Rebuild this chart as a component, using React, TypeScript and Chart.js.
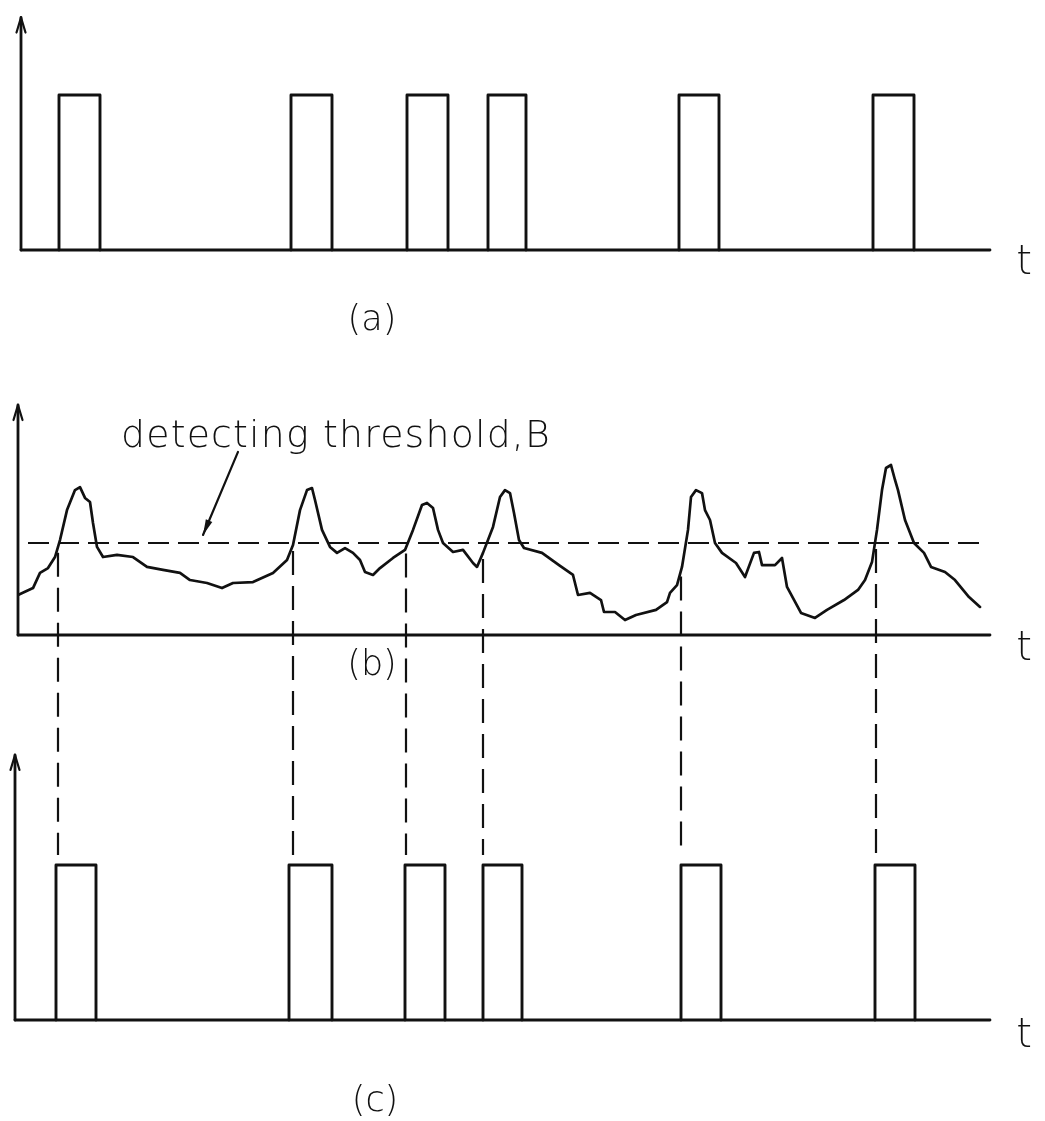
import React, { useEffect, useRef } from "react";
import { Chart, registerables } from "chart.js";

Chart.register(...registerables);

const W = 1045;
const H = 1121;
const INK = "#111111";
const FONT = "'DejaVu Sans', 'Liberation Sans', sans-serif";

// ---- Panel (a): input pulse train (time units) ----
const pulseStartA = [4.1, 27.3, 38.9, 47.0, 66.1, 85.5];
const pulseEndA = [8.2, 31.4, 43.0, 50.8, 70.1, 89.6];

// ---- Panel (b): received signal and detecting threshold B ----
const signalT = [
  0, 1.5, 2.2, 3.0, 3.7, 4.2, 4.9, 5.7, 6.2, 6.7,
  7.2, 7.5, 7.9, 8.5, 9.9, 11.5, 12.9, 14.5, 16.2, 17.2,
  18.9, 20.4, 21.5, 23.5, 25.5, 26.9, 27.5, 28.2, 28.9, 29.4,
  29.7, 30.4, 31.2, 31.9, 32.7, 33.5, 34.2, 34.7, 35.5, 36.2,
  37.5, 38.7, 39.5, 40.4, 40.9, 41.5, 42.0, 42.5, 43.5, 44.5,
  45.5, 45.9, 46.5, 47.5, 48.2, 48.7, 49.2, 49.6, 50.1, 50.6,
  52.4, 54.1, 55.5, 56.0, 57.2, 58.3, 58.6, 59.7, 60.7, 61.8,
  63.8, 64.9, 65.2, 65.9, 66.4, 67.0, 67.3, 67.8, 68.4, 68.7,
  69.2, 69.7, 70.4, 71.8, 72.7, 73.6, 74.1, 74.4, 75.7, 76.4,
  76.9, 78.3, 79.7, 80.9, 82.6, 84.0, 84.7, 85.4, 85.9, 86.4,
  86.8, 87.3, 87.7, 88.0, 88.7, 89.6, 90.6, 91.3, 92.7, 93.7,
  95.1, 96.2,
];
const signalV = [
  1.74, 2.04, 2.7, 2.91, 3.39, 4.13, 5.43, 6.3, 6.43, 5.96,
  5.78, 4.87, 3.83, 3.39, 3.48, 3.39, 2.96, 2.83, 2.7, 2.39,
  2.26, 2.04, 2.26, 2.3, 2.7, 3.26, 3.91, 5.43, 6.3, 6.39,
  5.87, 4.57, 3.83, 3.57, 3.78, 3.57, 3.26, 2.74, 2.61, 2.91,
  3.35, 3.7, 4.57, 5.65, 5.74, 5.52, 4.57, 4.0, 3.61, 3.7,
  3.13, 2.96, 3.57, 4.7, 6.0, 6.3, 6.17, 5.3, 4.13, 3.78,
  3.57, 3.04, 2.61, 1.74, 1.83, 1.52, 1.0, 1.0, 0.65, 0.87,
  1.09, 1.43, 1.83, 2.17, 2.96, 4.57, 6.0, 6.3, 6.17, 5.43,
  5.0, 4.0, 3.57, 3.13, 2.52, 3.57, 3.61, 3.04, 3.04, 3.35,
  2.09, 0.96, 0.74, 1.09, 1.52, 1.96, 2.39, 3.17, 4.57, 6.3,
  7.26, 7.39, 6.74, 6.3, 5.0, 4.0, 3.57, 2.96, 2.74, 2.39,
  1.65, 1.22,
];
const thresholdB = 4;
const thresholdSpan = [1.0, 96.4];

// upward threshold crossings (dashed projections to panel c)
const crossingT = [4.0, 27.5, 38.8, 46.5, 66.3, 85.8];

// ---- Panel (c): detected output pulses ----
const pulseStartC = [3.8, 27.1, 38.7, 46.5, 66.3, 85.7];
const pulseEndC = [7.8, 31.4, 42.7, 50.4, 70.3, 89.7];

// ---- Axes and labels ----
const panelAxes = [
  { axis: "ya", axisT: 0.3, endT: 97.2, topV: 1.5 },
  { axis: "yb", axisT: 0.0, endT: 97.2, topV: 10 },
  { axis: "yc", axisT: -0.3, endT: 97.2, topV: 1.71 },
];
const labels = [
  { text: "(a)", axis: "ya", t: 35.4, v: -0.46, size: 35, align: "center" },
  { text: "(b)", axis: "yb", t: 35.4, v: -1.35, size: 35, align: "center" },
  { text: "(c)", axis: "yc", t: 35.7, v: -0.53, size: 35, align: "center" },
  { text: "t", axis: "ya", t: 100.6, v: -0.09, size: 40, align: "center" },
  { text: "t", axis: "yb", t: 100.6, v: -0.65, size: 40, align: "center" },
  { text: "t", axis: "yc", t: 100.6, v: -0.11, size: 40, align: "center" },
];
const thresholdText = { text: "detecting threshold,B", axis: "yb", t: 10.3, v: 8.17, size: 38, spacing: "1.2px", width: 430 };
const thresholdArrow = { axis: "yb", from: [22.0, 7.96], to: [18.5, 4.35] };

// vertical placement of each panel's value range on the shared canvas
function placeAxis(zeroPx: number, unitPx: number) {
  return { min: -(H - zeroPx) / unitPx, max: zeroPx / unitPx };
}
const layoutA = placeAxis(250, 155);
const layoutB = placeAxis(635, 23);
const layoutC = placeAxis(1020, 155);

function pulseTrain(starts: number[], ends: number[]) {
  const pts: { x: number; y: number | null }[] = [];
  starts.forEach((s, i) => {
    pts.push({ x: s, y: 0 }, { x: s, y: 1 }, { x: ends[i], y: 1 }, { x: ends[i], y: 0 });
    pts.push({ x: ends[i] + 0.01, y: null });
  });
  return pts;
}

function interp(ts: number[], vs: number[], t: number) {
  for (let i = 1; i < ts.length; i++) {
    if (t <= ts[i]) {
      const f = (t - ts[i - 1]) / (ts[i] - ts[i - 1]);
      return vs[i - 1] + f * (vs[i] - vs[i - 1]);
    }
  }
  return vs[vs.length - 1];
}

const decorPlugin = {
  id: "decor",
  afterDatasetsDraw(chart: any) {
    const ctx = chart.ctx as CanvasRenderingContext2D;
    const xs = chart.scales.x;
    ctx.save();
    ctx.strokeStyle = INK;
    ctx.fillStyle = INK;
    ctx.lineCap = "round";
    ctx.lineJoin = "round";

    // axes with arrow heads
    ctx.lineWidth = 2.8;
    panelAxes.forEach((p) => {
      const ys = chart.scales[p.axis];
      const x0 = xs.getPixelForValue(p.axisT);
      const x1 = xs.getPixelForValue(p.endT);
      const y0 = ys.getPixelForValue(0);
      const yTop = ys.getPixelForValue(p.topV);
      ctx.beginPath();
      ctx.moveTo(x0, y0);
      ctx.lineTo(x1, y0);
      ctx.stroke();
      ctx.beginPath();
      ctx.moveTo(x0, y0);
      ctx.lineTo(x0, yTop);
      ctx.stroke();
      ctx.lineWidth = 2.2;
      ctx.beginPath();
      ctx.moveTo(x0 - 4.5, yTop + 15);
      ctx.lineTo(x0, yTop);
      ctx.lineTo(x0 + 4.5, yTop + 15);
      ctx.stroke();
      ctx.lineWidth = 2.8;
    });

    // dashed projections from threshold crossings down to panel (c)
    const yb = chart.scales.yb;
    const yc = chart.scales.yc;
    ctx.lineWidth = 2.2;
    ctx.lineCap = "butt";
    ctx.setLineDash([24, 11]);
    crossingT.forEach((t) => {
      const x = xs.getPixelForValue(t);
      const yStart = yb.getPixelForValue(Math.min(interp(signalT, signalV, t), thresholdB)) + 6;
      const yEnd = yc.getPixelForValue(1) - 10;
      ctx.beginPath();
      ctx.moveTo(x, yStart);
      ctx.lineTo(x, yEnd);
      ctx.stroke();
    });
    ctx.setLineDash([]);

    // annotation arrow for threshold
    const ya = chart.scales[thresholdArrow.axis];
    const ax0 = xs.getPixelForValue(thresholdArrow.from[0]);
    const ay0 = ya.getPixelForValue(thresholdArrow.from[1]);
    const ax1 = xs.getPixelForValue(thresholdArrow.to[0]);
    const ay1 = ya.getPixelForValue(thresholdArrow.to[1]);
    ctx.lineWidth = 2.2;
    ctx.lineCap = "round";
    ctx.beginPath();
    ctx.moveTo(ax0, ay0);
    ctx.lineTo(ax1, ay1);
    ctx.stroke();
    const ang = Math.atan2(ay1 - ay0, ax1 - ax0);
    const hl = 16;
    ctx.beginPath();
    ctx.moveTo(ax1 - hl * Math.cos(ang - 0.22), ay1 - hl * Math.sin(ang - 0.22));
    ctx.lineTo(ax1, ay1);
    ctx.lineTo(ax1 - hl * Math.cos(ang + 0.22), ay1 - hl * Math.sin(ang + 0.22));
    ctx.closePath();
    ctx.fill();

    // texts
    ctx.textBaseline = "middle";
    labels.forEach((l) => {
      const ys = chart.scales[l.axis];
      ctx.font = `200 ${l.size}px ${FONT}`;
      ctx.textAlign = l.align as CanvasTextAlign;
      ctx.fillText(l.text, xs.getPixelForValue(l.t), ys.getPixelForValue(l.v));
    });
    const tt = thresholdText;
    ctx.font = `200 ${tt.size}px ${FONT}`;
    (ctx as any).letterSpacing = tt.spacing;
    ctx.textAlign = "left";
    ctx.textBaseline = "alphabetic";
    ctx.fillText(tt.text, xs.getPixelForValue(tt.t), chart.scales[tt.axis].getPixelForValue(tt.v), tt.width);
    (ctx as any).letterSpacing = "0px";
    ctx.restore();
  },
};

export default function App() {
  const ref = useRef<HTMLCanvasElement | null>(null);

  useEffect(() => {
    if (!ref.current) return;
    const line = (extra: any) => ({
      type: "line",
      borderColor: INK,
      backgroundColor: INK,
      borderWidth: 2.9,
      pointRadius: 0,
      tension: 0,
      fill: false,
      spanGaps: false,
      borderJoinStyle: "round",
      borderCapStyle: "round",
      ...extra,
    });
    const chart = new Chart(ref.current, {
      type: "line",
      data: {
        datasets: [
          line({ label: "(a) pulses", yAxisID: "ya", data: pulseTrain(pulseStartA, pulseEndA) }),
          line({
            label: "(b) signal",
            yAxisID: "yb",
            borderWidth: 2.7,
            data: signalT.map((t, i) => ({ x: t, y: signalV[i] })),
          }),
          line({
            label: "threshold B",
            yAxisID: "yb",
            borderWidth: 2.2,
            borderDash: [21, 9],
            borderCapStyle: "butt",
            data: thresholdSpan.map((t) => ({ x: t, y: thresholdB })),
          }),
          line({ label: "(c) pulses", yAxisID: "yc", data: pulseTrain(pulseStartC, pulseEndC) }),
        ],
      } as any,
      options: {
        animation: false,
        responsive: false,
        devicePixelRatio: 1,
        layout: { padding: { left: 18, right: 53, top: 0, bottom: 0 } },
        plugins: { legend: { display: false }, tooltip: { enabled: false }, title: { display: false } },
        events: [],
        scales: {
          x: { type: "linear", min: 0, max: 97.4, display: false },
          ya: { type: "linear", position: "left", min: layoutA.min, max: layoutA.max, display: false },
          yb: { type: "linear", position: "left", min: layoutB.min, max: layoutB.max, display: false },
          yc: { type: "linear", position: "left", min: layoutC.min, max: layoutC.max, display: false },
        },
      } as any,
      plugins: [decorPlugin],
    });
    return () => chart.destroy();
  }, []);

  return (
    <div style={{ position: "absolute", left: 0, top: 0, width: W, height: H, background: "#fff" }}>
      <canvas ref={ref} width={W} height={H} style={{ width: W, height: H, display: "block" }} />
    </div>
  );
}
